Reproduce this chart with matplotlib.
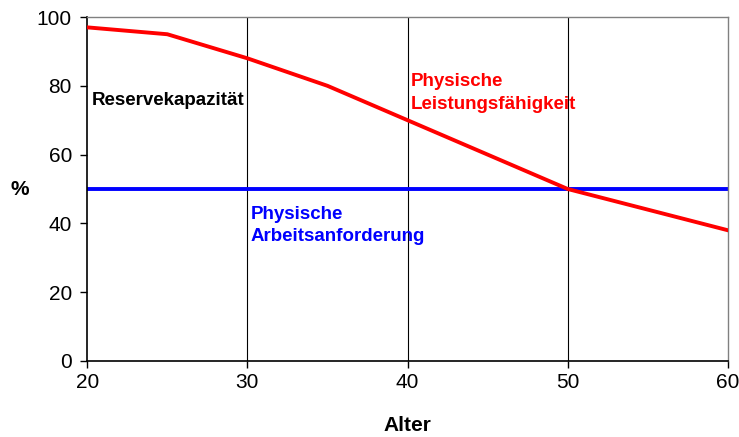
import matplotlib.pyplot as plt

plt.rcParams['font.family'] = ['Liberation Sans', 'DejaVu Sans']

# Daten
alter = [20, 25, 30, 35, 40, 45, 50, 55, 60]
leistung = [97, 95, 88, 80, 70, 60, 50, 44, 38]
anforderung = [50, 50, 50, 50, 50, 50, 50, 50, 50]
x_ticks = [20, 30, 40, 50, 60]
y_ticks = [0, 20, 40, 60, 80, 100]
vlinien = [30, 40, 50]

fig = plt.figure(figsize=(7.39, 4.37), dpi=100)
ax = fig.add_axes([0.118, 0.174, 0.867, 0.787])

for v in vlinien:
    ax.axvline(v, color='black', lw=0.8, zorder=1)

ax.plot(alter, anforderung, color='#0000ff', lw=2.8, zorder=2)
ax.plot(alter, leistung, color='#ff0000', lw=2.8, zorder=3)

ax.set_xlim(20, 60)
ax.set_ylim(0, 100)
ax.set_xticks(x_ticks)
ax.set_yticks(y_ticks)
ax.tick_params(axis='both', labelsize=15, direction='out', length=5, width=1)
ax.tick_params(axis='x', pad=4)
ax.tick_params(axis='y', pad=6)

for s in ['top', 'right']:
    ax.spines[s].set_color('gray')
    ax.spines[s].set_linewidth(1)
for s in ['left', 'bottom']:
    ax.spines[s].set_linewidth(1.2)

ax.set_xlabel('Alter', fontsize=15, fontweight='bold')
ax.xaxis.set_label_coords(0.5, -0.16)
ax.set_ylabel('%', fontsize=15, fontweight='bold', rotation=0, va='center')
ax.yaxis.set_label_coords(-0.105, 0.5)

ax.text(20.3, 75.6, 'Reservekapazität', fontsize=13.5, fontweight='bold', color='black', va='center')
ax.text(40.2, 77.9, 'Physische\nLeistungsfähigkeit', fontsize=13.5, fontweight='bold',
        color='#ff0000', va='center', linespacing=1.4)
ax.text(30.2, 39.4, 'Physische\nArbeitsanforderung', fontsize=13.5, fontweight='bold',
        color='#0000ff', va='center', linespacing=1.4)

fig.savefig('out.png', dpi=100)
